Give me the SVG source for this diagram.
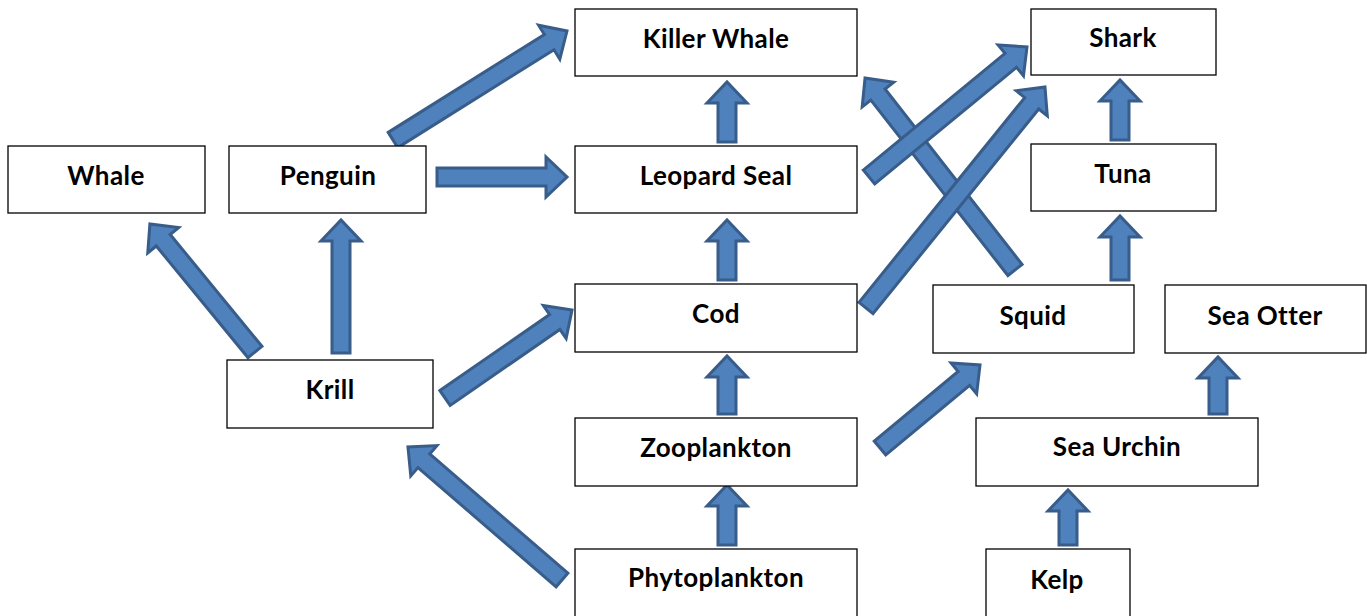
<svg xmlns="http://www.w3.org/2000/svg" width="1367" height="616" viewBox="0 0 1367 616">
<style>
.box{fill:#fff;stroke:#000;stroke-width:1.3}
.lbl{font-family:Lato,"Liberation Sans",sans-serif;font-weight:bold;font-size:26px;letter-spacing:0.4px;fill:#000;text-anchor:middle;dominant-baseline:central}
.arr{fill:#4F81BD;stroke:#385D8A;stroke-width:3;stroke-linejoin:miter}
</style>
<rect width="1367" height="616" fill="#fff"/>
<g id="connectors">
<polygon class="arr" transform="translate(393,140) rotate(-32.06)" points="0,-9 184.3,-9 184.3,-20 205.3,0 184.3,20 184.3,9 0,9"/>
<polygon class="arr" transform="translate(437,177)" points="0,-9 109,-9 109,-20 130,0 109,20 109,9 0,9"/>
<polygon class="arr" transform="translate(727,142) rotate(-90)" points="0,-9 39,-9 39,-20 60,0 39,20 39,9 0,9"/>
<polygon class="arr" transform="translate(727,280) rotate(-90)" points="0,-9 39,-9 39,-20 60,0 39,20 39,9 0,9"/>
<polygon class="arr" transform="translate(727,414) rotate(-90)" points="0,-9 37,-9 37,-20 58,0 37,20 37,9 0,9"/>
<polygon class="arr" transform="translate(727,545) rotate(-90)" points="0,-9 39,-9 39,-20 60,0 39,20 39,9 0,9"/>
<polygon class="arr" transform="translate(1015,270) rotate(-128.0)" points="0,-9 222.6,-9 222.6,-20 243.6,0 222.6,20 222.6,9 0,9"/>
<polygon class="arr" transform="translate(869,177) rotate(-39.45)" points="0,-9 183.6,-9 183.6,-20 204.6,0 183.6,20 183.6,9 0,9"/>
<polygon class="arr" transform="translate(866,308) rotate(-51.0)" points="0,-9 263.4,-9 263.4,-20 284.4,0 263.4,20 263.4,9 0,9"/>
<polygon class="arr" transform="translate(1120,140) rotate(-90)" points="0,-9 39,-9 39,-20 60,0 39,20 39,9 0,9"/>
<polygon class="arr" transform="translate(1120,280) rotate(-90)" points="0,-9 43,-9 43,-20 64,0 43,20 43,9 0,9"/>
<polygon class="arr" transform="translate(1218,414) rotate(-90)" points="0,-9 36,-9 36,-20 57,0 36,20 36,9 0,9"/>
<polygon class="arr" transform="translate(1068,545) rotate(-90)" points="0,-9 34,-9 34,-20 55,0 34,20 34,9 0,9"/>
<polygon class="arr" transform="translate(880,448) rotate(-39.7)" points="0,-9 109,-9 109,-20 130,0 109,20 109,9 0,9"/>
<polygon class="arr" transform="translate(445,398) rotate(-34.7)" points="0,-9 133.5,-9 133.5,-20 154.5,0 133.5,20 133.5,9 0,9"/>
<polygon class="arr" transform="translate(255,352) rotate(-129.4)" points="0,-9 144.6,-9 144.6,-20 165.6,0 144.6,20 144.6,9 0,9"/>
<polygon class="arr" transform="translate(341,353) rotate(-90)" points="0,-9 112,-9 112,-20 133,0 112,20 112,9 0,9"/>
<polygon class="arr" transform="translate(562,580) rotate(-139.2)" points="0,-9 182.5,-9 182.5,-20 203.5,0 182.5,20 182.5,9 0,9"/>
</g>
<g id="killer-whale"><rect class="box" x="575" y="9" width="282" height="67"/><text class="lbl" x="716" y="38">Killer Whale</text></g>
<g id="shark"><rect class="box" x="1031" y="9" width="185" height="66"/><text class="lbl" x="1123" y="37">Shark</text></g>
<g id="whale"><rect class="box" x="8" y="146" width="197" height="67"/><text class="lbl" x="106" y="175">Whale</text></g>
<g id="penguin"><rect class="box" x="229" y="146" width="197" height="67"/><text class="lbl" x="328" y="175">Penguin</text></g>
<g id="leopard-seal"><rect class="box" x="575" y="146" width="282" height="67"/><text class="lbl" x="716" y="175">Leopard Seal</text></g>
<g id="tuna"><rect class="box" x="1031" y="144" width="185" height="67"/><text class="lbl" x="1123" y="173">Tuna</text></g>
<g id="cod"><rect class="box" x="575" y="284" width="282" height="68"/><text class="lbl" x="716" y="313">Cod</text></g>
<g id="squid"><rect class="box" x="933" y="285" width="201" height="68"/><text class="lbl" x="1033" y="315">Squid</text></g>
<g id="sea-otter"><rect class="box" x="1165" y="285" width="201" height="68"/><text class="lbl" x="1265" y="315">Sea Otter</text></g>
<g id="krill"><rect class="box" x="227" y="360" width="206" height="68"/><text class="lbl" x="330" y="389">Krill</text></g>
<g id="zooplankton"><rect class="box" x="575" y="418" width="282" height="68"/><text class="lbl" x="716" y="447">Zooplankton</text></g>
<g id="sea-urchin"><rect class="box" x="976" y="418" width="282" height="68"/><text class="lbl" x="1117" y="446">Sea Urchin</text></g>
<g id="phytoplankton"><rect class="box" x="575" y="549" width="282" height="70"/><text class="lbl" x="716" y="577">Phytoplankton</text></g>
<g id="kelp"><rect class="box" x="986" y="549" width="144" height="70"/><text class="lbl" x="1057" y="579">Kelp</text></g>
</svg>
